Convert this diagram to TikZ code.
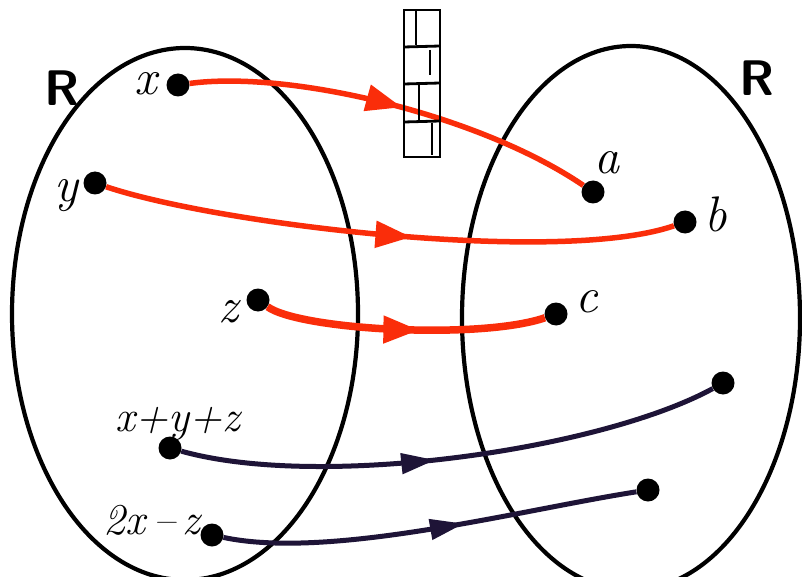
\documentclass[tikz,border=0pt]{standalone}
\usetikzlibrary{arrows.meta,decorations.markings}
\definecolor{redline}{RGB}{250,45,10}
\definecolor{darkline}{RGB}{30,20,55}
\begin{document}
\begin{tikzpicture}[x=1pt,y=-1pt,
  dot/.style={circle,fill=black,inner sep=0pt,minimum size=23pt},
  lbl/.style={font=\fontsize{50}{50}\selectfont\itshape,inner sep=0pt},
  smlbl/.style={font=\fontsize{44}{44}\selectfont\itshape,inner sep=0pt},
  setlbl/.style={font=\fontsize{50}{50}\selectfont\sffamily\bfseries,inner sep=0pt},
  redarrow/.style={draw=redline,line width=5.5pt,
    postaction={decorate},decoration={markings,mark=at position #1 with {\arrow{Triangle[length=36pt,width=26pt]}}}},
  darkarrow/.style={draw=darkline,line width=5pt,
    postaction={decorate},decoration={markings,mark=at position #1 with {\arrow{Triangle[length=34pt,width=20pt]}}}},
  ell/.style={draw=black,line width=4.2pt},
  boxline/.style={draw=black,line width=2.8pt}]
\useasboundingbox (0,0) rectangle (802,577);
\fill[white] (0,0) rectangle (802,577);
% sets
\draw[ell] (185,314) ellipse [x radius=173, y radius=266];
\draw[ell] (631,318) ellipse [x radius=169, y radius=272];
\node[setlbl] (RL) at (62,88) {R};
\node[setlbl] (RR) at (757,78) {R};
% dots
\node[dot] (x) at (178,85) {};
\node[dot] (y) at (95,183) {};
\node[dot] (z) at (258,300) {};
\node[dot] (s) at (170,448) {};
\node[dot] (t) at (212,535) {};
\node[dot] (a) at (593,192) {};
\node[dot] (b) at (685,222) {};
\node[dot] (c) at (556,314) {};
\node[dot] (d) at (723,383) {};
\node[dot] (e) at (648,490) {};
% labels
\node[lbl] (lx) at (146,84) {x};
\node[lbl] (ly) at (66,196) {y};
\node[lbl] (lz) at (228,312) {z};
\node[smlbl] (ls) at (178,424) {x+y+z};
\node[smlbl] (lt) at (152,520) {2x\,--\,z};
\node[lbl] (la) at (607,163) {a};
\node[lbl] (lb) at (716,214) {b};
\node[lbl] (lc) at (587,302) {c};
% arrows
\draw[redarrow=0.52] (x) .. controls (290,70) and (480,115) .. (a);
\draw[redarrow=0.54] (y) .. controls (220,225) and (560,265) .. (b);
\draw[redarrow=0.55,line width=7.5pt] (z) .. controls (300,330) and (480,340) .. (c);
\draw[darkarrow=0.47] (s) .. controls (320,490) and (600,450) .. (d);
\draw[darkarrow=0.58] (t) .. controls (330,560) and (520,510) .. (e);
% stacked box
\draw[boxline] (404,10) rectangle (440,157);
\draw[boxline] (404,47) -- (440,46);
\draw[boxline] (404,84) -- (440,83);
\draw[boxline] (404,122) -- (440,121);
\draw[boxline] (416,11) -- (416,45);
\draw[boxline] (430,50) -- (430,75);
\draw[boxline] (419,85) -- (419,120);
\draw[boxline] (432,123) -- (432,155);
\end{tikzpicture}
\end{document}
